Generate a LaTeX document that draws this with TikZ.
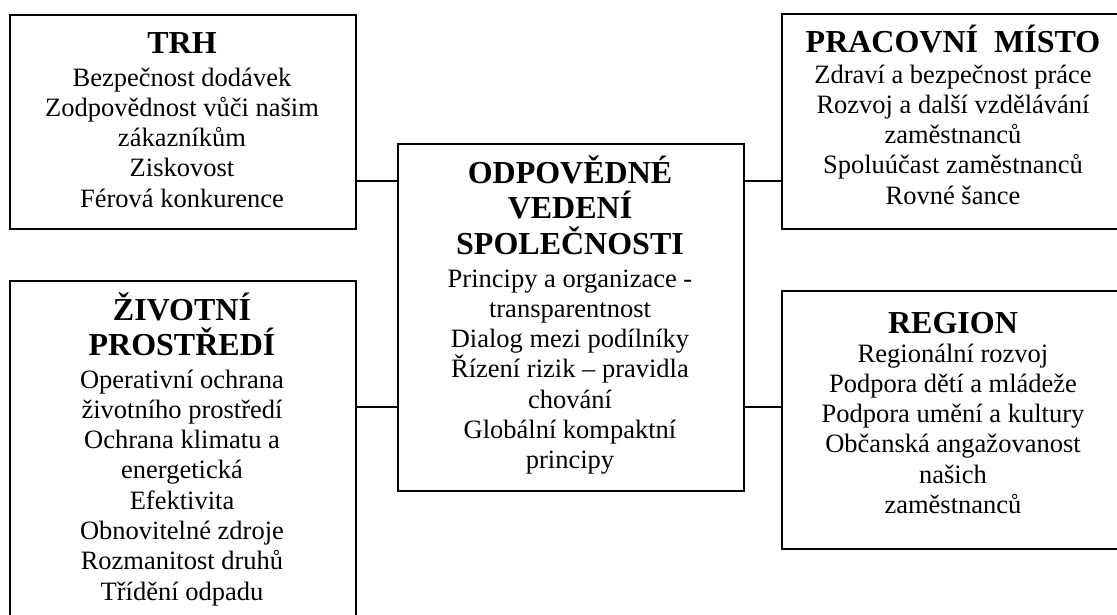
\documentclass[tikz,border=0pt]{standalone}
\usepackage{fontspec}
\setmainfont{Liberation Serif}
\newcommand\lstack[1]{\vtop{\halign{\hfil##\hfil\cr#1\crcr}}}
\newcommand\bxbody{\fontsize{26.5}{30.3}\selectfont}
\newcommand\bxtitle{\fontsize{32}{35.5}\selectfont\bfseries}
\tikzset{
  box/.style={draw=black, line width=1.6pt, inner sep=0pt, anchor=north west},
  ttl/.style={anchor=base, inner sep=0pt, font=\bxtitle},
  txt/.style={anchor=base, inner sep=0pt, font=\bxbody},
  link/.style={draw=black, line width=1.6pt},
}
\begin{document}
\begin{tikzpicture}[x=1pt, y=-1pt]
\clip (0,0) rectangle (1117,614);
\fill[white] (0,0) rectangle (1117,614);
% boxes
\node[box, minimum width=346pt, minimum height=214pt] (trh) at (9,14) {};
\node[box, minimum width=346pt, minimum height=347pt] (cen) at (397,143) {};
\node[box, minimum width=344pt, minimum height=215pt] (pm) at (781,13) {};
\node[box, minimum width=346pt, minimum height=345pt] (zp) at (9,280) {};
\node[box, minimum width=344pt, minimum height=258pt] (reg) at (781,290) {};
% texts
\node[ttl] (trht) at (182,53) {\lstack{TRH}};
\node[txt] (trhb) at (182,86) {\lstack{Bezpečnost dodávek\cr Zodpovědnost vůči našim\cr zákazníkům\cr Ziskovost\cr Férová konkurence}};
\node[ttl] (cent) at (570,183) {\lstack{ODPOVĚDNÉ\cr VEDENÍ\cr SPOLEČNOSTI}};
\node[txt] (cenb) at (570,287) {\lstack{Principy a organizace -\cr transparentnost\cr Dialog mezi podílníky\cr Řízení rizik – pravidla\cr chování\cr Globální kompaktní\cr principy}};
\node[ttl] (pmt) at (953,52) {\lstack{PRACOVNÍ\ \ MÍSTO}};
\node[txt] (pmb) at (953,83) {\lstack{Zdraví a bezpečnost práce\cr Rozvoj a další vzdělávání\cr zaměstnanců\cr Spoluúčast zaměstnanců\cr Rovné šance}};
\node[ttl] (zpt) at (182,320) {\lstack{ŽIVOTNÍ\cr PROSTŘEDÍ}};
\node[txt] (zpb) at (182,388) {\lstack{Operativní ochrana\cr životního prostředí\cr Ochrana klimatu a\cr energetická\cr Efektivita\cr Obnovitelné zdroje\cr Rozmanitost druhů\cr Třídění odpadu}};
\node[ttl] (regt) at (953,333) {\lstack{REGION}};
\node[txt] (regb) at (953,362) {\lstack{Regionální rozvoj\cr Podpora dětí a mládeže\cr Podpora umění a kultury\cr Občanská angažovanost\cr našich\cr zaměstnanců}};
% connectors
\coordinate (j1) at (0,181);
\coordinate (j2) at (0,407);
\draw[link] (trh.east |- j1) -- (cen.west |- j1);
\draw[link] (cen.east |- j1) -- (pm.west |- j1);
\draw[link] (zp.east |- j2) -- (cen.west |- j2);
\draw[link] (cen.east |- j2) -- (reg.west |- j2);
\end{tikzpicture}
\end{document}
